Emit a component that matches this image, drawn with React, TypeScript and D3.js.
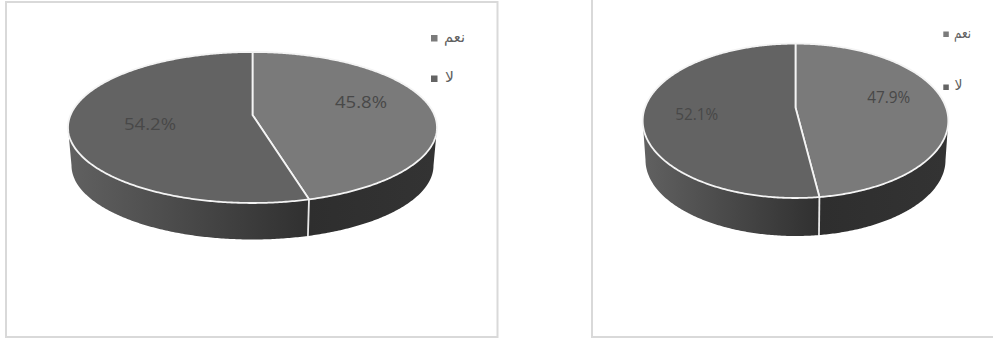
import React from "react";
import * as d3 from "d3";

// Survey answers shown in each pie, in clockwise order from twelve o'clock.
const answers = ["نعم", "لا"];
const firstChartValues = [45.8, 54.2];
const secondChartValues = [47.9, 52.1];

const faceColors = d3.scaleOrdinal<string, string>().domain(answers).range(["#7a7a7a", "#636363"]);

type Ellipse = { cx: number; cy: number; rx: number; ry: number };

type PieLayout = {
  id: string;
  values: number[];
  top: Ellipse;
  base: Ellipse;
  tilt: number; // how far the hub sits above the ellipse centre, as a share of ry
  labels: { x: number; y: number }[];
  labelWidth: number;
  legendMarkers: { x: number; y: number; size: number }[];
  legendTexts: { x: number; y: number; width: number }[];
};

const layouts: PieLayout[] = [
  {
    id: "a",
    values: firstChartValues,
    top: { cx: 252.5, cy: 127.5, rx: 184.5, ry: 75.5 },
    base: { cx: 252.5, cy: 165.5, rx: 181, ry: 74 },
    tilt: 12.5 / 75.5,
    labels: [{ x: 361, y: 102 }, { x: 150, y: 123.5 }],
    labelWidth: 52,
    legendMarkers: [{ x: 431, y: 35, size: 6.5 }, { x: 431, y: 75.5, size: 6.5 }],
    legendTexts: [{ x: 454.5, y: 37, width: 21 }, { x: 449.5, y: 77, width: 9 }],
  },
  {
    id: "b",
    values: secondChartValues,
    top: { cx: 795.5, cy: 120.8, rx: 152.8, ry: 77.2 },
    base: { cx: 795.5, cy: 160, rx: 150, ry: 76 },
    tilt: 13.4 / 77.2,
    labels: [{ x: 888.7, y: 97 }, { x: 696.7, y: 114 }],
    labelWidth: 43,
    legendMarkers: [{ x: 943.3, y: 31.5, size: 5.5 }, { x: 943.3, y: 84.5, size: 5.5 }],
    legendTexts: [{ x: 962.5, y: 33, width: 17 }, { x: 958.5, y: 85, width: 8 }],
  },
];

// Maps a pie angle (clockwise from the top) onto the disc in perspective:
// a circle under this projective map stays an ellipse, while the hub moves up.
function projector(e: Ellipse, tilt: number) {
  const k = e.rx * Math.sqrt(1 - tilt * tilt);
  return (angle: number): [number, number] => {
    const u = Math.sin(angle);
    const v = -Math.cos(angle);
    const w = 1 - tilt * v;
    return [e.cx + (k * u) / w, e.cy + (e.ry * (v - tilt)) / w];
  };
}

const lineGen = d3.line<[number, number]>();

function sampleAngles(a0: number, a1: number): number[] {
  const n = Math.max(2, Math.ceil(Math.abs(a1 - a0) / 0.01));
  return d3.range(n + 1).map((i) => a0 + ((a1 - a0) * i) / n);
}

function Pie({ layout }: { layout: PieLayout }) {
  const { id, values, top, base, tilt } = layout;
  const arcs = d3.pie<number>().sort(null).startAngle(0).endAngle(2 * Math.PI)(values);
  const onTop = projector(top, tilt);
  const onBase = projector(base, tilt);
  const hubPoint: [number, number] = [top.cx, top.cy - top.ry * tilt];

  // The rim is visible only between the two silhouette angles of the disc.
  const rimStart = Math.acos(-tilt);
  const rimEnd = 2 * Math.PI - rimStart;
  const seam = arcs[0].endAngle;

  const rimPath = (a0: number, a1: number) => {
    const upper = sampleAngles(a0, a1).map(onTop);
    const lower = sampleAngles(a1, a0).map(onBase);
    return lineGen([...upper, ...lower]) + "Z";
  };

  const facePath = (a0: number, a1: number) =>
    lineGen([hubPoint, ...sampleAngles(a0, a1).map(onTop)]) + "Z";

  const seamTop = onTop(seam);
  const seamBase = onBase(seam);

  return (
    <g>
      <defs>
        <linearGradient id={`rim-left-${id}`} gradientUnits="userSpaceOnUse" x1={base.cx - base.rx} x2={seamTop[0]} y1={0} y2={0}>
          <stop offset="0" stopColor="#606060" />
          <stop offset="1" stopColor="#303030" />
        </linearGradient>
        <linearGradient id={`rim-right-${id}`} gradientUnits="userSpaceOnUse" x1={seamTop[0]} x2={base.cx + base.rx} y1={0} y2={0}>
          <stop offset="0" stopColor="#2e2e2e" />
          <stop offset="1" stopColor="#333333" />
        </linearGradient>
      </defs>
      <path d={rimPath(rimStart, seam)} fill={`url(#rim-right-${id})`} />
      <path d={rimPath(seam, rimEnd)} fill={`url(#rim-left-${id})`} />
      <line x1={seamTop[0]} y1={seamTop[1]} x2={seamBase[0]} y2={seamBase[1]} stroke="#e8e8e8" strokeWidth={1.8} />
      {arcs.map((slice, i) => (
        <path
          key={answers[i]}
          d={facePath(slice.startAngle, slice.endAngle)}
          fill={faceColors(answers[i])}
          stroke="#f4f4f4"
          strokeWidth={1.8}
          strokeLinejoin="round"
        />
      ))}
      {/* grouped at just under full opacity so glyphs are drawn with plain grey antialiasing */}
      <g opacity={0.99}>
        {values.map((value, i) => (
          <text
            key={`label-${answers[i]}`}
            x={layout.labels[i].x}
            y={layout.labels[i].y}
            textAnchor="middle"
            dominantBaseline="central"
            fontFamily="'Open Sans', sans-serif"
            fontSize={15.5}
            fill="#484848"
            textLength={layout.labelWidth}
            lengthAdjust="spacingAndGlyphs"
          >
            {`${value.toFixed(1)}%`}
          </text>
        ))}
        {answers.map((answer, i) => {
          const marker = layout.legendMarkers[i];
          const label = layout.legendTexts[i];
          return (
            <g key={`legend-${answer}`}>
              <rect x={marker.x} y={marker.y} width={marker.size} height={marker.size} fill={faceColors(answer)} />
              <text
                x={label.x}
                y={label.y}
                textAnchor="middle"
                dominantBaseline="central"
                fontFamily="'DejaVu Sans', sans-serif"
                fontSize={15}
                fill="#5f5f5f"
                textLength={label.width}
                lengthAdjust="spacingAndGlyphs"
              >
                {answer}
              </text>
            </g>
          );
        })}
      </g>
    </g>
  );
}

export default function App() {
  return (
    <svg
      width={993}
      height={338}
      viewBox="0 0 993 338"
      style={{ position: "absolute", left: 0, top: 0, display: "block", background: "#ffffff" }}
    >
      {/* chart frames: the second one runs off the top and right of the page */}
      <rect x={6} y={2} width={491.5} height={335} fill="none" stroke="#d9d9d9" strokeWidth={2} />
      <path d="M592,0V337H993" fill="none" stroke="#d9d9d9" strokeWidth={2} />
      {layouts.map((layout) => (
        <Pie key={layout.id} layout={layout} />
      ))}
    </svg>
  );
}
